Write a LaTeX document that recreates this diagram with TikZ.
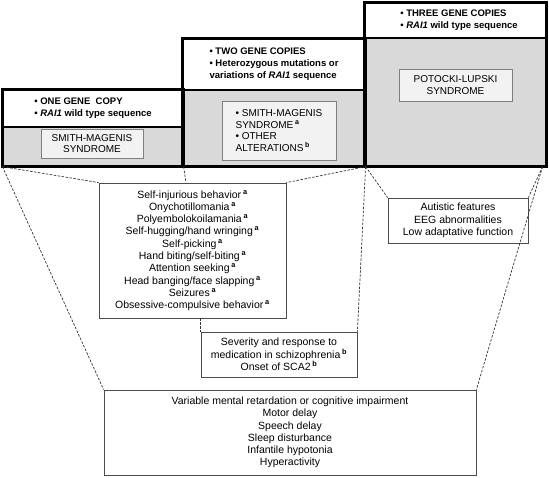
\documentclass[tikz,border=0pt]{standalone}
\usepackage{fontspec}
\setmainfont{Liberation Sans}
\usepackage{tikz}
\usetikzlibrary{calc}
\definecolor{zonegray}{HTML}{D9D9D9}
\definecolor{innergray}{HTML}{F2F2F2}
\definecolor{rimgray}{HTML}{7F7F7F}
\definecolor{dashgray}{HTML}{333333}
\newcommand{\supa}{\textsuperscript{\bfseries a}}
\newcommand{\supb}{\textsuperscript{\bfseries b}}
\newcommand{\rai}{\textbf{\textit{RAI1}}}

\begin{document}
\begin{tikzpicture}[x=1pt,y=-1pt,
    hdr/.style={draw,line width=1.2pt,fill=white,inner sep=0pt,align=left,font=\fontsize{9.5}{12}\selectfont\bfseries},
    zone/.style={draw,line width=1.2pt,fill=zonegray,inner sep=0pt},
    syn/.style={draw=rimgray,line width=0.8pt,fill=innergray,inner sep=0pt,font=\fontsize{10}{11.5}\selectfont},
    feat/.style={draw=black!70,line width=0.8pt,fill=white,inner sep=0pt,align=center,font=\fontsize{10.5}{12.3}\selectfont},
    link/.style={draw=dashgray,line width=0.7pt,dash pattern=on 2.5pt off 1.5pt}]
    \useasboundingbox (0,0) rectangle (549,478);

    \node[zone,minimum width=180pt,minimum height=39pt] (synL) at (93,146.5) {};
    \node[zone,minimum width=182pt,minimum height=76pt] (synM) at (274,128) {};
    \node[zone,minimum width=181pt,minimum height=128pt] (synR) at (455.5,102) {};
    \node[hdr,minimum width=180pt,minimum height=37pt] (hdrL) at (93,108.5)
        {\textbullet\ ONE GENE\ \ COPY\\\textbullet\ \rai\ wild type sequence};
    \node[hdr,minimum width=182pt,minimum height=51pt] (hdrM) at (274,64.5)
        {\textbullet\ TWO GENE COPIES\\\textbullet\ Heterozygous mutations or\\variations of \rai\ sequence};
    \node[hdr,minimum width=181pt,minimum height=35pt] (hdrR) at (455.5,20.5)
        {\hspace{7pt}\textbullet\ THREE GENE COPIES\\\hspace{7pt}\textbullet\ \rai\ wild type sequence};
    \draw[line width=2pt] (hdrL.north west) rectangle (synL.south east);
    \draw[line width=2pt] (hdrM.north west) rectangle (synM.south east);
    \draw[line width=2pt] (hdrR.north west) rectangle (synR.south east);

    \node[syn,align=center,minimum width=102pt,minimum height=29pt] (smsL) at (92,143.5) {SMITH-MAGENIS\\SYNDROME};
    \node[syn,align=left,minimum width=114pt,minimum height=59pt] (smsM) at (279,130.5)
        {\textbullet\ SMITH-MAGENIS\\SYNDROME\,\supa\\\textbullet\ OTHER\\ALTERATIONS\,\supb};
    \node[syn,align=center,minimum width=113pt,minimum height=32pt] (plsR) at (455.5,85) {POTOCKI-LUPSKI\\SYNDROME};

    \node[feat,minimum width=187pt,minimum height=135pt] (selfB) at (192.5,250.5)
        {Self-injurious behavior\,\supa\\Onychotillomania\,\supa\\Polyembolokoilamania\,\supa\\
         Self-hugging/hand wringing\,\supa\\Self-picking\,\supa\\Hand biting/self-biting\,\supa\\
         Attention seeking\,\supa\\Head banging/face slapping\,\supa\\Seizures\,\supa\\
         Obsessive-compulsive behavior\,\supa};
    \node[feat,minimum width=140pt,minimum height=45pt] (autB) at (458,220.5)
        {Autistic features\\EEG abnormalities\\Low adaptative function};
    \node[feat,minimum width=156pt,minimum height=45pt] (sevB) at (279,354.5)
        {Severity and response to\\medication in schizophrenia\,\supb\\Onset of SCA2\,\supb};
    \node[feat,minimum width=372pt,minimum height=85pt] (comB) at (290,432.5)
        {Variable mental retardation or cognitive impairment\\Motor delay\\Speech delay\\
         Sleep disturbance\\Infantile hypotonia\\Hyperactivity};

    \draw[link] (synL.south west) -- (selfB.north west);
    \draw[link] (synL.south east) -- ([xshift=-6.5pt]selfB.north);
    \draw[link] (synM.south east) -- (selfB.north east);
    \draw[link] (synM.south east) -- (sevB.north east);
    \draw[link] (selfB.south -| sevB.north west) -- (sevB.north west);
    \draw[link] (synM.south east) -- (autB.north west);
    \draw[link] ([xshift=-4pt]synR.south east) -- (autB.north east);
    \draw[link] ([xshift=-4pt]synR.south east) -- (comB.north east);
    \draw[link] (synL.south west) -- (comB.north west);
\end{tikzpicture}
\end{document}
